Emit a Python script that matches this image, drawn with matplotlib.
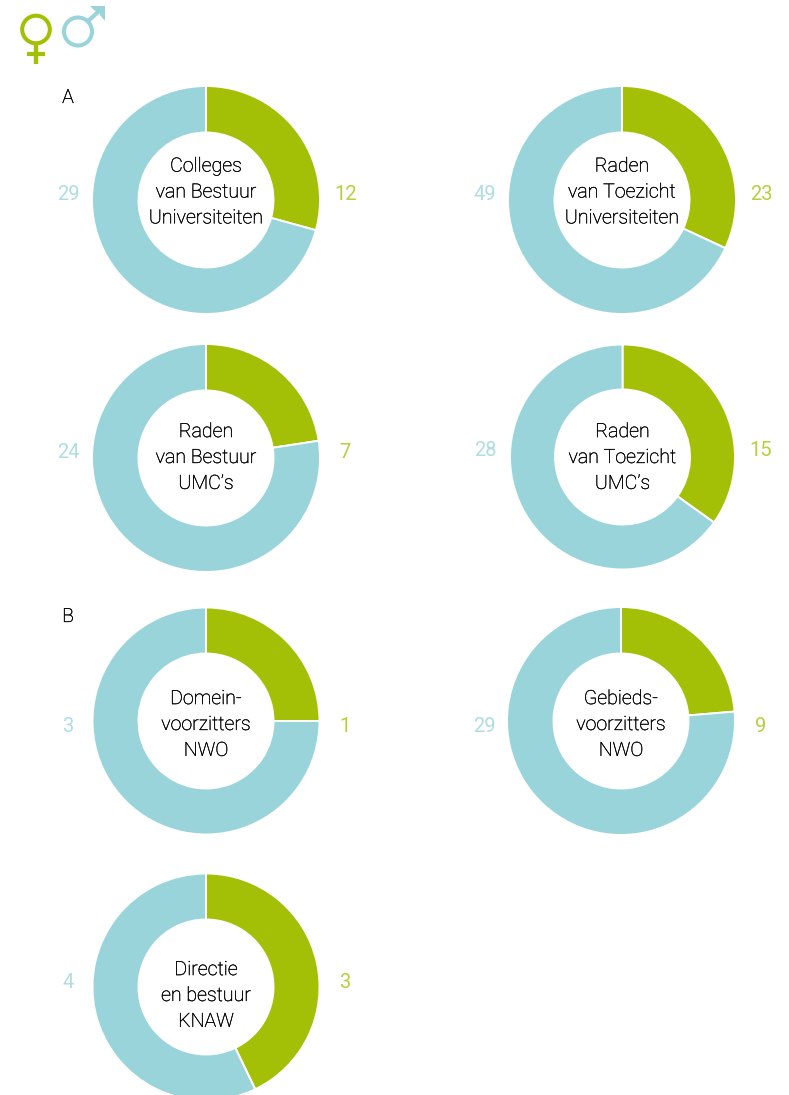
import matplotlib
matplotlib.use("Agg")
import matplotlib.pyplot as plt
import matplotlib.patheffects as pe
from matplotlib.patches import Circle, Polygon

W, H = 789, 1095
GREEN = "#a3c006"
BLUE = "#9ad4db"
GREEN_NUM = "#b7cf3c"
BLUE_NUM = "#aedde2"
TEXT = "#000000"

titles = [
    "Colleges\nvan Bestuur\nUniversiteiten",
    "Raden\nvan Toezicht\nUniversiteiten",
    "Raden\nvan Bestuur\nUMC’s",
    "Raden\nvan Toezicht\nUMC’s",
    "Domein-\nvoorzitters\nNWO",
    "Gebieds-\nvoorzitters\nNWO",
    "Directie\nen bestuur\nKNAW",
]
women = [12, 23, 7, 15, 1, 9, 3]
men = [29, 49, 24, 28, 3, 29, 4]

# centre x, centre y, radius in pixels
centers = [
    (206, 200, 114),
    (622, 200, 114),
    (206, 458, 114),
    (622.5, 457, 112.5),
    (206, 721, 113.5),
    (621, 721, 114),
    (206, 987, 113.5),
]
# label positions (men x, women x, y)
label_pos = [
    (68, 346, 194),
    (485, 761, 194),
    (68, 345, 453),
    (485, 761, 451),
    (68, 345, 726),
    (484, 761, 726),
    (68, 345, 982),
]
title_y = [192, 192, 457.5, 457.5, 724.5, 724.5, 995.5]

plt.rcParams["font.family"] = "Roboto"
thicker = [pe.withStroke(linewidth=0.25, foreground=TEXT)]

fig = plt.figure(figsize=(W / 100, H / 100), dpi=100)
bg = fig.add_axes([0, 0, 1, 1])
bg.set_xlim(0, W)
bg.set_ylim(H, 0)
bg.axis("off")

for i in range(len(titles)):
    cx, cy, r = centers[i]
    pad = r + 3
    ax = fig.add_axes([(cx - pad) / W, 1 - (cy + pad) / H, 2 * pad / W, 2 * pad / H])
    ax.pie(
        [women[i], men[i]],
        colors=[GREEN, BLUE],
        startangle=90,
        counterclock=False,
        radius=r,
        wedgeprops={"width": r - 67.5, "edgecolor": "white", "linewidth": 1.4},
    )
    ax.set_xlim(-pad, pad)
    ax.set_ylim(-pad, pad)
    ax.text(0, cy - title_y[i], titles[i], ha="center", va="center", fontsize=14.1,
            color=TEXT, linespacing=1.46, weight="light", path_effects=thicker)
    mx, wx, ly = label_pos[i]
    bg.text(mx, ly, str(men[i]), ha="center", va="center", fontsize=14.5, color=BLUE_NUM)
    bg.text(wx, ly, str(women[i]), ha="center", va="center", fontsize=14.5, color=GREEN_NUM)

bg.text(68, 98, "A", ha="center", va="center", fontsize=14, color=TEXT, weight="light", path_effects=thicker)
bg.text(68, 617, "B", ha="center", va="center", fontsize=14, color=TEXT, weight="light", path_effects=thicker)

# female sign
bg.add_patch(Circle((36, 29.5), 13.8, fill=False, ec=GREEN, lw=2.9))
bg.plot([36, 36], [44, 64], color=GREEN, lw=3.2, solid_capstyle="butt")
bg.plot([27, 45], [54, 54], color=GREEN, lw=3, solid_capstyle="butt")
# male sign
bg.add_patch(Circle((78, 31.5), 14, fill=False, ec=BLUE, lw=2.9))
bg.plot([88, 101], [21, 9.5], color=BLUE, lw=3, solid_capstyle="butt")
bg.add_patch(Polygon([[90, 6], [105, 6], [105, 21], [100, 15], [100, 11], [95, 11]], fc=BLUE, ec="none"))

fig.savefig("out.png", dpi=100)
